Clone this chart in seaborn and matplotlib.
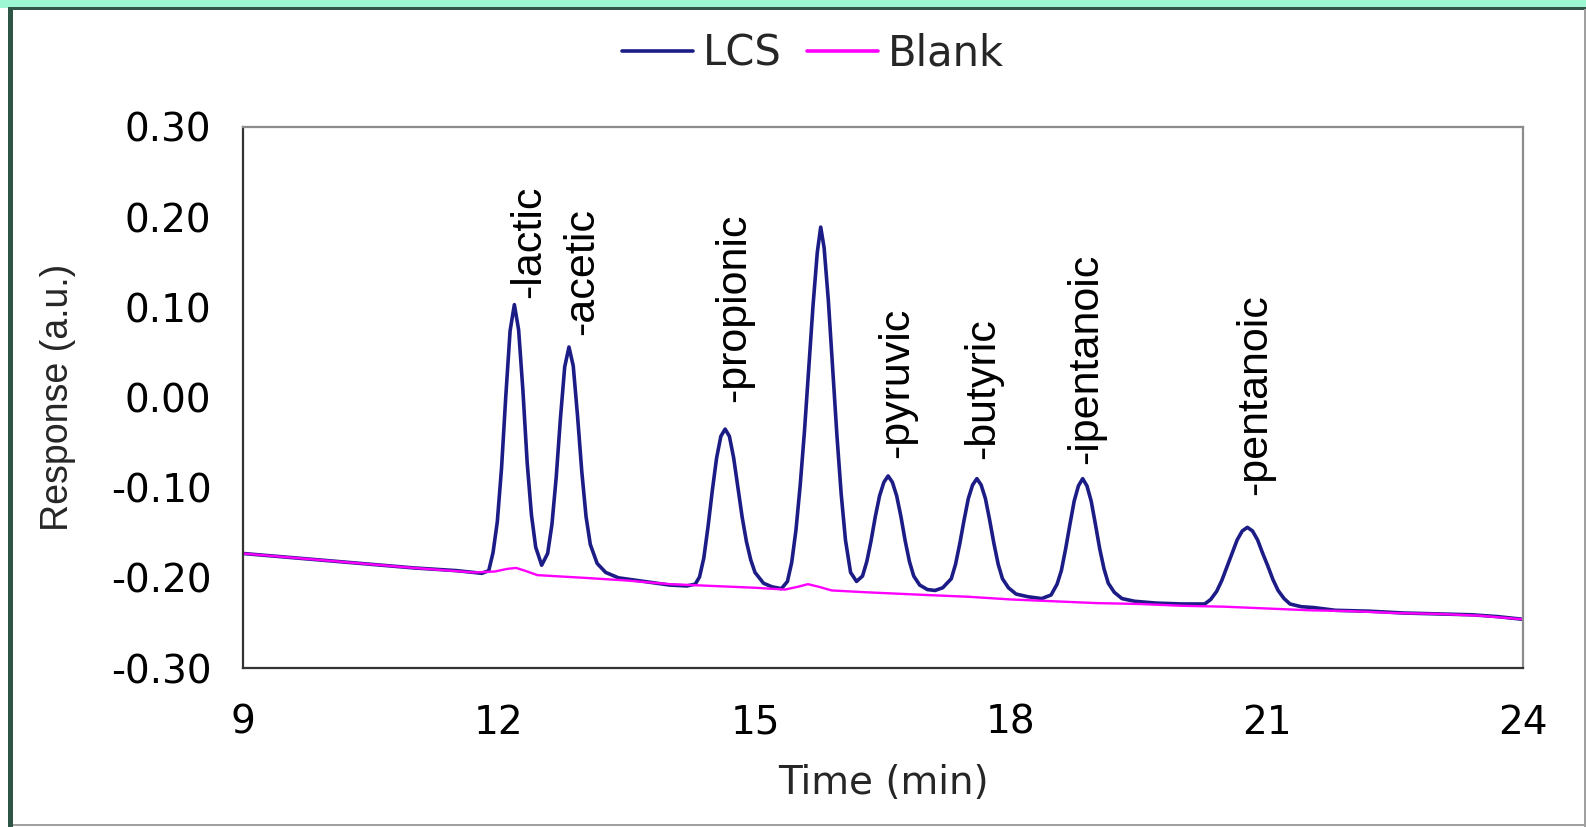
import matplotlib
matplotlib.use("Agg")
import matplotlib.pyplot as plt
from matplotlib.patches import Rectangle
import pandas as pd
import seaborn as sns

# ---------------- data ----------------
lcs_time = [
    9.00, 9.50, 10.00, 10.50, 11.00, 11.50, 11.80,
    11.88, 11.93, 11.98, 12.03, 12.08, 12.13, 12.18, 12.23, 12.28, 12.33, 12.38, 12.43, 12.50,
    12.57, 12.62, 12.67, 12.72, 12.77, 12.82, 12.87, 12.92, 12.97, 13.02, 13.07, 13.15, 13.25, 13.40,
    13.70, 14.00, 14.20,
    14.30, 14.35, 14.40, 14.45, 14.50, 14.55, 14.60, 14.65, 14.70, 14.75, 14.80, 14.85, 14.90, 14.95, 15.00, 15.10, 15.20, 15.31,
    15.38, 15.43, 15.48, 15.53, 15.58, 15.63, 15.68, 15.73, 15.77, 15.81, 15.86, 15.91, 15.96, 16.01, 16.06, 16.12, 16.19,
    16.26, 16.31, 16.36, 16.41, 16.46, 16.51, 16.56, 16.61, 16.66, 16.71, 16.76, 16.81, 16.86, 16.93, 17.02, 17.11,
    17.20, 17.30, 17.35, 17.40, 17.45, 17.50, 17.55, 17.60, 17.65, 17.70, 17.75, 17.80, 17.85, 17.90, 17.97, 18.06, 18.20, 18.36,
    18.47, 18.54, 18.59, 18.64, 18.69, 18.74, 18.79, 18.84, 18.89, 18.94, 18.99, 19.04, 19.09, 19.14, 19.21, 19.30, 19.45, 19.70, 20.00, 20.20,
    20.27, 20.34, 20.41, 20.47, 20.53, 20.59, 20.65, 20.71, 20.77, 20.83, 20.89, 20.95, 21.01, 21.07, 21.13, 21.20, 21.27, 21.40, 21.55,
    21.80, 22.20, 22.60, 23.00, 23.40, 23.70, 24.00,
]
lcs_response = [
    -0.173, -0.177, -0.181, -0.185, -0.189, -0.192, -0.195,
    -0.192, -0.172, -0.138, -0.078, 0.002, 0.074, 0.103, 0.075, 0.008, -0.072, -0.130, -0.166, -0.186,
    -0.173, -0.141, -0.089, -0.023, 0.034, 0.056, 0.035, -0.020, -0.082, -0.132, -0.163, -0.184, -0.194, -0.200,
    -0.204, -0.208, -0.209,
    -0.207, -0.199, -0.178, -0.143, -0.103, -0.067, -0.043, -0.035, -0.043, -0.067, -0.100, -0.133, -0.160, -0.180, -0.194, -0.206, -0.210, -0.212,
    -0.204, -0.183, -0.147, -0.097, -0.037, 0.033, 0.102, 0.161, 0.189, 0.166, 0.107, 0.033, -0.042, -0.107, -0.158, -0.194, -0.204,
    -0.198, -0.182, -0.159, -0.132, -0.109, -0.094, -0.087, -0.094, -0.109, -0.132, -0.159, -0.182, -0.198, -0.208, -0.213, -0.214,
    -0.211, -0.201, -0.185, -0.162, -0.136, -0.112, -0.097, -0.090, -0.097, -0.112, -0.136, -0.162, -0.185, -0.201, -0.211, -0.218, -0.221, -0.223,
    -0.219, -0.207, -0.192, -0.168, -0.141, -0.115, -0.098, -0.090, -0.098, -0.115, -0.141, -0.168, -0.190, -0.206, -0.216, -0.223, -0.226, -0.228, -0.229, -0.229,
    -0.229, -0.224, -0.215, -0.203, -0.188, -0.173, -0.158, -0.148, -0.144, -0.148, -0.158, -0.173, -0.187, -0.202, -0.214, -0.223, -0.229, -0.232, -0.233,
    -0.236, -0.237, -0.239, -0.240, -0.241, -0.243, -0.246,
]
blank_time = [
    9.0, 10.0, 11.0, 11.7, 11.95, 12.1, 12.2, 12.3, 12.45,
    13.0, 13.5, 14.0, 14.5, 15.0, 15.35, 15.5, 15.62, 15.75, 15.9,
    16.3, 17.0, 17.5, 18.0, 18.5, 19.0, 19.5, 20.0, 20.5, 21.0,
    21.5, 22.0, 22.5, 23.0, 23.5, 24.0,
]
blank_response = [
    -0.173, -0.181, -0.189, -0.194, -0.193, -0.190, -0.189, -0.192, -0.197,
    -0.200, -0.203, -0.207, -0.209, -0.211, -0.213, -0.210, -0.207, -0.210, -0.214,
    -0.216, -0.219, -0.221, -0.224, -0.226, -0.228, -0.229, -0.231, -0.232, -0.234,
    -0.236, -0.237, -0.239, -0.240, -0.242, -0.246,
]
peak_names = ["-lactic", "-acetic", "-propionic", "-pyruvic", "-butyric", "-ipentanoic", "-pentanoic"]
peak_times = [12.18, 12.82, 14.65, 16.56, 17.60, 18.84, 20.77]
peak_tops = [0.103, 0.056, -0.035, -0.087, -0.090, -0.090, -0.144]
x_ticks = [9, 12, 15, 18, 21, 24]
y_ticks = [-0.30, -0.20, -0.10, 0.00, 0.10, 0.20, 0.30]
series_names = ["LCS", "Blank"]

assert len(lcs_time) == len(lcs_response)
assert len(blank_time) == len(blank_response)

# ---------------- styling ----------------
sns.set_style("white")
plt.rcParams["font.family"] = ["DejaVu Sans"]
plt.rcParams["axes.unicode_minus"] = False

W, H = 1586, 827
fig = plt.figure(figsize=(W / 100, H / 100), dpi=100)
fig.patch.set_facecolor("white")


def frame_rect(x0, y0, x1, y1, color):
    fig.add_artist(Rectangle((x0 / W, 1 - y1 / H), (x1 - x0) / W, (y1 - y0) / H,
                             transform=fig.transFigure, facecolor=color,
                             edgecolor="none", zorder=0))


# outer frame decorations
frame_rect(0, 0, W, 7.5, "#9cf7d2")
frame_rect(8, 7, W, 9.5, "#35554a")
frame_rect(8, 7, 13, H, "#2f5547")
frame_rect(W - 2.5, 9, W, H, "#a0a0a0")
frame_rect(13, H - 3.5, W, H - 1, "#a0a0a0")

ax = fig.add_axes([243 / W, 1 - 668 / H, 1280 / W, 541 / H])
ax.set_facecolor("white")

lcs_df = pd.DataFrame({"Time (min)": lcs_time, "Response (a.u.)": lcs_response})
blank_df = pd.DataFrame({"Time (min)": blank_time, "Response (a.u.)": blank_response})

sns.lineplot(data=lcs_df, x="Time (min)", y="Response (a.u.)", ax=ax,
             color="#1c1c86", linewidth=2.6, label=series_names[0],
             estimator=None, sort=False)
sns.lineplot(data=blank_df, x="Time (min)", y="Response (a.u.)", ax=ax,
             color="#ff00ff", linewidth=1.7, label=series_names[1],
             estimator=None, sort=False)

ax.set_xlim(9, 24)
ax.set_ylim(-0.30, 0.30)
ax.set_xticks(x_ticks)
ax.set_xticklabels([str(v) for v in x_ticks])
ax.set_yticks(y_ticks)
ax.set_yticklabels([f"{v:.2f}" for v in y_ticks])

for side in ("left", "bottom"):
    ax.spines[side].set_color("#333333")
    ax.spines[side].set_linewidth(1.6)
for side in ("top", "right"):
    ax.spines[side].set_color("#8c8c8c")
    ax.spines[side].set_linewidth(1.6)

ax.tick_params(axis="both", direction="out", length=8.6, width=1.1,
               color="#333333", labelsize=28, labelcolor="black")
ax.tick_params(axis="y", pad=14)
ax.tick_params(axis="x", pad=17)

ax.set_xlabel("Time (min)", fontsize=28)
ax.xaxis.set_label_coords(0.5, -0.178)
ax.set_ylabel("Response (a.u.)", fontsize=27, family=["Liberation Sans", "DejaVu Sans"])
ax.yaxis.set_label_coords(-0.1305, 0.5)

# peak labels
label_offsets_px = [(15, 7), (13, 12), (9, 27), (9, 18), (6, 20), (3, 15), (8, 32)]
for name, t, v, (dx, dy) in zip(peak_names, peak_times, peak_tops, label_offsets_px):
    ax.annotate(name, xy=(t, v), xytext=(dx, dy), textcoords="offset pixels",
                rotation=90, rotation_mode="anchor", ha="left", va="center",
                fontsize=31, family=["Liberation Sans", "DejaVu Sans"], color="black")

# legend
handles, labels = ax.get_legend_handles_labels()
if ax.get_legend() is not None:
    ax.get_legend().remove()
leg = ax.legend(handles, labels, loc="center", bbox_to_anchor=(813 / W, 1 - 54 / H),
                bbox_transform=fig.transFigure, ncol=2, frameon=False, fontsize=30,
                handlelength=1.7, handletextpad=0.25, columnspacing=0.6,
                borderpad=0, borderaxespad=0)
for line in leg.get_lines():
    line.set_linewidth(2.6)

fig.savefig("out.png", dpi=100)
